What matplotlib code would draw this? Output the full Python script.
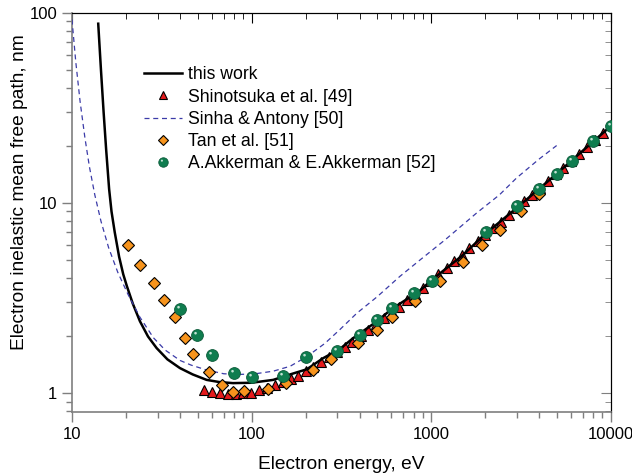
import matplotlib
matplotlib.use("Agg")
import matplotlib.pyplot as plt
from matplotlib.path import Path
from matplotlib.ticker import FuncFormatter, NullFormatter

# this work (solid line)
E_work = [14.0, 14.5, 15.0, 15.5, 16.1, 16.6, 17.3, 18.3, 19.3, 20.2, 21.8, 23.9, 26.5,
          29.6, 34.0, 39.9, 47.0, 56.2, 66.0, 78.7, 100, 132, 164, 203, 250, 310, 368,
          500, 600, 867, 1000, 1500, 2000, 3000, 5000, 7000, 10000]
L_work = [87.5, 50.0, 30.0, 19.0, 11.8, 9.0, 7.0, 5.2, 4.2, 3.65, 2.95, 2.38, 1.98,
          1.72, 1.5, 1.35, 1.25, 1.17, 1.14, 1.125, 1.13, 1.17, 1.25, 1.33, 1.52, 1.7, 1.94,
          2.38, 2.75, 3.45, 3.9, 5.3, 6.85, 9.4, 14.2, 18.8, 25.3]

# Shinotsuka et al. [49]
E_shin = [54, 60, 67, 74, 82, 90, 99, 110, 122, 135, 150, 165, 182, 200, 221, 245, 271,
          300, 330, 364, 405, 447, 494, 548, 605, 664, 736, 812, 897, 990, 1097, 1219,
          1345, 1490, 1628, 1814, 1993, 2198, 2447, 2711, 3000, 3300, 3655, 4040, 4453,
          4930, 5445, 6030, 6683, 7350, 8150, 9020]
L_shin = [1.04, 1.01, 1.0, 0.985, 0.985, 1.0, 1.0, 1.03, 1.06, 1.1, 1.14, 1.18, 1.23,
          1.31, 1.37, 1.45, 1.54, 1.64, 1.74, 1.86, 2.0, 2.15, 2.3, 2.47, 2.65, 2.82, 3.09,
          3.3, 3.55, 3.88, 4.22, 4.56, 4.91, 5.32, 5.78, 6.26, 6.79, 7.37, 7.92, 8.65, 9.4,
          10.16, 11.0, 11.9, 12.95, 14.1, 15.3, 16.6, 18.1, 19.7, 21.5, 23.4]

# Sinha & Antony [50] (dashed)
E_sinha = [10, 10.5, 11.1, 11.8, 12.5, 13.4, 14.5, 16.0, 18.0, 20.5, 23.9, 28.4, 33, 40,
           46, 56, 70, 86, 105, 132, 164, 203, 256, 310, 385, 500, 670, 867, 1200, 1791,
           2400, 2990, 4000, 5000]
L_sinha = [92, 55, 34, 22, 15.5, 11.0, 8.0, 5.8, 4.3, 3.3, 2.5, 1.95, 1.68, 1.48,
           1.4, 1.32, 1.26, 1.25, 1.26, 1.3, 1.38, 1.55, 1.82, 2.15, 2.62, 3.2, 4.1, 5.0,
           6.4, 8.83, 11.0, 13.5, 17.0, 20.0]

# Tan et al. [51]
E_tan = [20.4, 23.9, 28.5, 32.7, 37.3, 42.8, 47.3, 58.2, 68.4, 79.1, 90.3, 123, 155, 219,
         276, 390, 497, 607, 813, 1119, 1496, 1911, 2415, 3150, 4000]
L_tan = [5.96, 4.73, 3.78, 3.07, 2.5, 1.94, 1.61, 1.285, 1.105, 1.016, 1.024, 1.05, 1.13,
         1.32, 1.5, 1.84, 2.15, 2.5, 3.05, 3.89, 4.87, 6.0, 7.2, 9.07, 11.1]

# A.Akkerman & E.Akkerman [52]
E_akk = [40.1, 49.9, 60, 80.2, 100, 150, 200, 300, 401, 501, 603, 802, 1006, 2018, 3010,
         4000, 5000, 6060, 8000, 10000]
L_akk = [2.77, 2.02, 1.585, 1.27, 1.21, 1.23, 1.55, 1.66, 2.02, 2.42, 2.79, 3.35, 3.89,
         7.0, 9.57, 11.8, 14.1, 16.6, 21.2, 25.4]

plt.rcParams['font.family'] = 'Liberation Sans'
fig = plt.figure(figsize=(6.32, 4.75), dpi=100)
ax = fig.add_axes([0.1139, 0.132, 0.8524, 0.8413])

gray = '#7f7f7f'
l1, = ax.plot(E_work, L_work, '-', color='black', lw=1.8, zorder=3)
l2, = ax.plot(E_shin, L_shin, '^', ls='none', ms=7, mfc='#e41a1c', mec='black', mew=0.8,
              zorder=2)
l3, = ax.plot(E_sinha, L_sinha, '--', color='#3b3ba8', lw=0.9, dashes=(4, 3), zorder=3)
l4, = ax.plot(E_tan, L_tan, 'D', ls='none', ms=6, mfc='#f7941d', mec='black', mew=0.8,
              zorder=4)
l5, = ax.plot(E_akk, L_akk, 'o', ls='none', ms=8.5, mfc='#0f7d4f', mec='#0b5a39', mew=0.6,
              zorder=5)
# little shine on the spheres
shine = Path.circle(center=(-0.3, 0.35), radius=0.2)
l5b, = ax.plot(E_akk, L_akk, marker=shine, ls='none', ms=5.2, mfc='#d8eee3', mec='none',
               alpha=0.9, zorder=6)

ax.set_xscale('log')
ax.set_yscale('log')
ax.set_xlim(10, 10000)
ax.set_ylim(0.79, 100)

fmt = FuncFormatter(lambda v, p: '%g' % v)
ax.xaxis.set_major_formatter(fmt)
ax.yaxis.set_major_formatter(fmt)
ax.xaxis.set_minor_formatter(NullFormatter())
ax.yaxis.set_minor_formatter(NullFormatter())

ax.tick_params(which='both', direction='out', color=gray, labelsize=12, top=False, right=False)
ax.tick_params(which='major', length=7, width=1)
ax.tick_params(which='minor', length=4, width=1)
ax.spines['left'].set_color(gray)
ax.spines['bottom'].set_color(gray)
ax.spines['left'].set_linewidth(1.2)
ax.spines['bottom'].set_linewidth(1.2)

# mirrored ticks pointing inwards on top and right
sx = ax.secondary_xaxis('top')
sx.tick_params(which='both', direction='in', labeltop=False, color='black')
sx.tick_params(which='major', length=7)
sx.tick_params(which='minor', length=4)
sy = ax.secondary_yaxis('right')
sy.tick_params(which='both', direction='in', labelright=False, color=gray)
sy.tick_params(which='major', length=7)
sy.tick_params(which='minor', length=4)

ax.set_xlabel('Electron energy, eV', fontsize=13.8, labelpad=10)
ax.set_ylabel('Electron inelastic mean free path, nm', fontsize=13.8)
ax.yaxis.set_label_coords(-0.082, 0.55)

ax.legend([l1, l2, l3, l4, (l5, l5b)],
          ['this work', 'Shinotsuka et al. [49]', 'Sinha & Antony [50]', 'Tan et al. [51]',
           'A.Akkerman & E.Akkerman [52]'],
          loc='upper left', bbox_to_anchor=(0.134, 0.866), frameon=False, fontsize=12.7,
          handlelength=2.15, handletextpad=0.35, labelspacing=0.3, borderpad=0,
          borderaxespad=0, numpoints=1, markerscale=0.8)

plt.savefig('out.png', dpi=100)
